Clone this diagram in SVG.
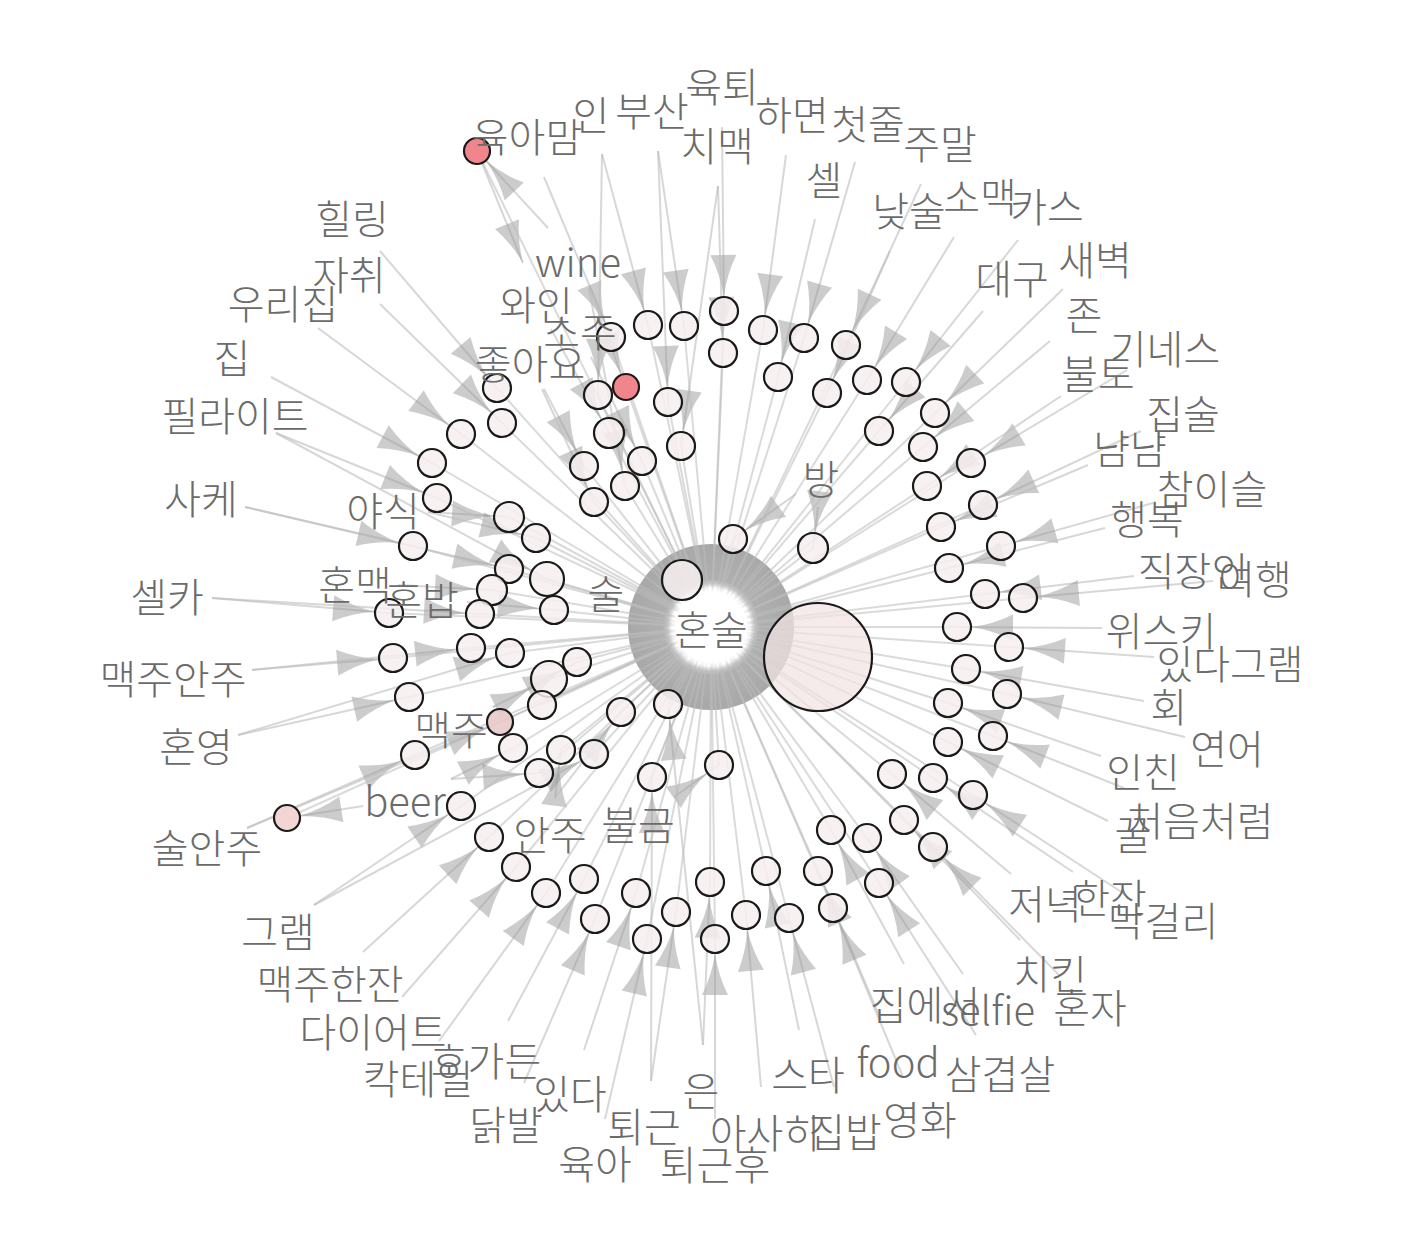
<svg xmlns="http://www.w3.org/2000/svg" width="1426" height="1240" viewBox="0 0 1426 1240">
<style>
.e line{stroke:#bcbcbc;stroke-opacity:.6;stroke-width:2;fill:none}
.c line{stroke:#bcbcbc;stroke-opacity:.55;stroke-width:2}
.ah{fill:#9a9a9a;fill-opacity:.5}
.n circle{fill:#f6eeee;fill-opacity:.85;stroke:#1a1a1a;stroke-width:2.2}
.n .red{fill:#f0868c;fill-opacity:1}
.n .pk{fill:#f3d3d3;fill-opacity:.95}
.n .pk2{fill:#e9c9c9;fill-opacity:.9}
.n .big{fill:#f3e3e3;fill-opacity:.72}
text{font-family:"Noto Sans CJK KR","Noto Sans CJK SC",sans-serif;font-size:40px;font-weight:300;fill:#6b6b6b;text-anchor:middle;dominant-baseline:central}
</style>
<defs>
<radialGradient id="rg" cx="711" cy="627" r="83" gradientUnits="userSpaceOnUse">
<stop offset="0.47" stop-color="#fff"/><stop offset="0.5" stop-color="#d2d2d2"/><stop offset="0.58" stop-color="#b0b0b0"/><stop offset="1" stop-color="#a8a8a8"/>
</radialGradient>
<radialGradient id="wh" cx="711" cy="627" r="44" gradientUnits="userSpaceOnUse">
<stop offset="0.8" stop-color="#fff" stop-opacity="1"/><stop offset="1" stop-color="#fff" stop-opacity="0"/>
</radialGradient>
<marker id="m0" markerUnits="userSpaceOnUse" markerWidth="60" markerHeight="30" refX="0" refY="0" orient="auto" style="overflow:visible"><path class="ah" d="M0,0Q-22,-3 -42,-13L-42,13Q-22,3 0,0Z"/></marker>
<marker id="m13" markerUnits="userSpaceOnUse" markerWidth="60" markerHeight="30" refX="13" refY="0" orient="auto" style="overflow:visible"><path class="ah" d="M0,0Q-22,-3 -42,-13L-42,13Q-22,3 0,0Z"/></marker>
<marker id="m14" markerUnits="userSpaceOnUse" markerWidth="60" markerHeight="30" refX="14" refY="0" orient="auto" style="overflow:visible"><path class="ah" d="M0,0Q-22,-3 -42,-13L-42,13Q-22,3 0,0Z"/></marker>
<marker id="m15" markerUnits="userSpaceOnUse" markerWidth="60" markerHeight="30" refX="15" refY="0" orient="auto" style="overflow:visible"><path class="ah" d="M0,0Q-22,-3 -42,-13L-42,13Q-22,3 0,0Z"/></marker>
<marker id="m17" markerUnits="userSpaceOnUse" markerWidth="60" markerHeight="30" refX="17" refY="0" orient="auto" style="overflow:visible"><path class="ah" d="M0,0Q-22,-3 -42,-13L-42,13Q-22,3 0,0Z"/></marker>
<marker id="m18" markerUnits="userSpaceOnUse" markerWidth="60" markerHeight="30" refX="18" refY="0" orient="auto" style="overflow:visible"><path class="ah" d="M0,0Q-22,-3 -42,-13L-42,13Q-22,3 0,0Z"/></marker>
</defs>
<rect width="1426" height="1240" fill="#fff"/>
<circle id="ring" cx="711" cy="627" r="83" fill="url(#rg)"/>
<g id="connectors">
<g class="e">
<line x1="544" y1="177" x2="611" y2="337" marker-end="url(#m14)"/>
<line x1="602" y1="154" x2="648" y2="325" marker-end="url(#m14)"/>
<line x1="658" y1="151" x2="684" y2="326" marker-end="url(#m14)"/>
<line x1="722" y1="127" x2="724" y2="311" marker-end="url(#m14)"/>
<line x1="718" y1="186" x2="723" y2="353" marker-end="url(#m14)"/>
<line x1="786" y1="155" x2="763" y2="330" marker-end="url(#m14)"/>
<line x1="815" y1="219" x2="778" y2="377" marker-end="url(#m14)"/>
<line x1="855" y1="162" x2="804" y2="338" marker-end="url(#m14)"/>
<line x1="921" y1="184" x2="846" y2="345" marker-end="url(#m14)"/>
<line x1="890" y1="251" x2="827" y2="393" marker-end="url(#m14)"/>
<line x1="954" y1="237" x2="867" y2="380" marker-end="url(#m14)"/>
<line x1="1018" y1="240" x2="906" y2="382" marker-end="url(#m14)"/>
<line x1="983" y1="311" x2="879" y2="431" marker-end="url(#m14)"/>
<line x1="1063" y1="289" x2="935" y2="413" marker-end="url(#m14)"/>
<line x1="1050" y1="341" x2="923" y2="447" marker-end="url(#m14)"/>
<line x1="1127" y1="370" x2="971" y2="463" marker-end="url(#m14)"/>
<line x1="1061" y1="396" x2="927" y2="486" marker-end="url(#m14)"/>
<line x1="1141" y1="431" x2="983" y2="505" marker-end="url(#m14)"/>
<line x1="1088" y1="465" x2="941" y2="527" marker-end="url(#m14)"/>
<line x1="1153" y1="503" x2="1001" y2="546" marker-end="url(#m14)"/>
<line x1="1105" y1="528" x2="949" y2="568" marker-end="url(#m14)"/>
<line x1="1134" y1="576" x2="985" y2="594" marker-end="url(#m14)"/>
<line x1="1213" y1="581" x2="1023" y2="598" marker-end="url(#m14)"/>
<line x1="1102" y1="628" x2="957" y2="627" marker-end="url(#m14)"/>
<line x1="1154" y1="657" x2="1009" y2="647" marker-end="url(#m14)"/>
<line x1="1144" y1="701" x2="966" y2="669" marker-end="url(#m14)"/>
<line x1="1185" y1="737" x2="1007" y2="694" marker-end="url(#m14)"/>
<line x1="1101" y1="756" x2="948" y2="703" marker-end="url(#m14)"/>
<line x1="1124" y1="788" x2="993" y2="736" marker-end="url(#m14)"/>
<line x1="1108" y1="821" x2="948" y2="742" marker-end="url(#m14)"/>
<line x1="1073" y1="872" x2="933" y2="778" marker-end="url(#m14)"/>
<line x1="1126" y1="895" x2="973" y2="795" marker-end="url(#m14)"/>
<line x1="1011" y1="874" x2="892" y2="774" marker-end="url(#m14)"/>
<line x1="1020" y1="940" x2="904" y2="820" marker-end="url(#m14)"/>
<line x1="1059" y1="975" x2="933" y2="847" marker-end="url(#m14)"/>
<line x1="963" y1="974" x2="867" y2="838" marker-end="url(#m14)"/>
<line x1="904" y1="964" x2="831" y2="830" marker-end="url(#m14)"/>
<line x1="976" y1="1035" x2="879" y2="883" marker-end="url(#m14)"/>
<line x1="881" y1="1020" x2="818" y2="871" marker-end="url(#m14)"/>
<line x1="903" y1="1077" x2="833" y2="908" marker-end="url(#m14)"/>
<line x1="834" y1="1087" x2="789" y2="918" marker-end="url(#m14)"/>
<line x1="799" y1="1030" x2="766" y2="871" marker-end="url(#m14)"/>
<line x1="761" y1="1087" x2="746" y2="915" marker-end="url(#m14)"/>
<line x1="715" y1="1119" x2="715" y2="939" marker-end="url(#m14)"/>
<line x1="703" y1="1045" x2="710" y2="882" marker-end="url(#m14)"/>
<line x1="651" y1="1081" x2="676" y2="912" marker-end="url(#m14)"/>
<line x1="605" y1="1119" x2="647" y2="939" marker-end="url(#m14)"/>
<line x1="584" y1="1050" x2="636" y2="893" marker-end="url(#m14)"/>
<line x1="524" y1="1083" x2="595" y2="919" marker-end="url(#m14)"/>
<line x1="508" y1="1021" x2="584" y2="879" marker-end="url(#m14)"/>
<line x1="439" y1="1041" x2="546" y2="893" marker-end="url(#m14)"/>
<line x1="402" y1="997" x2="516" y2="867" marker-end="url(#m14)"/>
<line x1="363" y1="952" x2="489" y2="837" marker-end="url(#m14)"/>
<line x1="314" y1="905" x2="461" y2="806" marker-end="url(#m14)"/>
<line x1="247" y1="828" x2="415" y2="755" marker-end="url(#m14)"/>
<line x1="238" y1="735" x2="409" y2="697" marker-end="url(#m14)"/>
<line x1="252" y1="670" x2="393" y2="658" marker-end="url(#m14)"/>
<line x1="212" y1="598" x2="389" y2="613" marker-end="url(#m14)"/>
<line x1="245" y1="507" x2="413" y2="546" marker-end="url(#m14)"/>
<line x1="276" y1="433" x2="437" y2="498" marker-end="url(#m14)"/>
<line x1="271" y1="377" x2="432" y2="463" marker-end="url(#m14)"/>
<line x1="318" y1="328" x2="461" y2="434" marker-end="url(#m14)"/>
<line x1="380" y1="304" x2="502" y2="423" marker-end="url(#m14)"/>
<line x1="380" y1="251" x2="497" y2="388" marker-end="url(#m14)"/>
<line x1="363" y1="806" x2="287" y2="818" marker-end="url(#m13)"/>
<line x1="548" y1="228" x2="477" y2="151" marker-end="url(#m13)"/>
<line x1="477" y1="151" x2="523" y2="263" marker-end="url(#m0)"/>
<line x1="428" y1="512" x2="509" y2="517" marker-end="url(#m15)"/>
<line x1="428" y1="512" x2="536" y2="538" marker-end="url(#m14)"/>
<line x1="398" y1="585" x2="492" y2="590" marker-end="url(#m15)"/>
<line x1="467" y1="602" x2="554" y2="610" marker-end="url(#m14)"/>
<line x1="493" y1="707" x2="549" y2="679" marker-end="url(#m18)"/>
<line x1="451" y1="779" x2="513" y2="748" marker-end="url(#m14)"/>
<line x1="555" y1="798" x2="561" y2="750" marker-end="url(#m14)"/>
<line x1="674" y1="797" x2="719" y2="765" marker-end="url(#m14)"/>
<line x1="818" y1="507" x2="813" y2="548" marker-end="url(#m15)"/>
<line x1="796" y1="494" x2="733" y2="539" marker-end="url(#m14)"/>
<line x1="589" y1="288" x2="626" y2="387" marker-end="url(#m13)"/>
<line x1="551" y1="329" x2="609" y2="433" marker-end="url(#m15)"/>
<line x1="591" y1="357" x2="642" y2="461" marker-end="url(#m14)"/>
<line x1="544" y1="389" x2="584" y2="466" marker-end="url(#m14)"/>
<line x1="542" y1="389" x2="594" y2="502" marker-end="url(#m14)"/>
<line x1="602" y1="154" x2="598" y2="395" marker-end="url(#m14)"/>
<line x1="658" y1="151" x2="668" y2="402" marker-end="url(#m14)"/>
<line x1="718" y1="186" x2="681" y2="446" marker-end="url(#m14)"/>
<line x1="589" y1="288" x2="625" y2="486" marker-end="url(#m14)"/>
<line x1="245" y1="507" x2="509" y2="569" marker-end="url(#m14)"/>
<line x1="276" y1="433" x2="547" y2="579" marker-end="url(#m17)"/>
<line x1="212" y1="598" x2="480" y2="614" marker-end="url(#m14)"/>
<line x1="252" y1="670" x2="471" y2="648" marker-end="url(#m14)"/>
<line x1="238" y1="735" x2="510" y2="653" marker-end="url(#m14)"/>
<line x1="493" y1="707" x2="577" y2="662" marker-end="url(#m14)"/>
<line x1="247" y1="828" x2="500" y2="722" marker-end="url(#m13)"/>
<line x1="451" y1="779" x2="539" y2="773" marker-end="url(#m14)"/>
<line x1="314" y1="905" x2="594" y2="754" marker-end="url(#m14)"/>
<line x1="555" y1="798" x2="621" y2="712" marker-end="url(#m14)"/>
<line x1="651" y1="1081" x2="652" y2="777" marker-end="url(#m14)"/>
<line x1="703" y1="1045" x2="668" y2="704" marker-end="url(#m14)"/>
</g>
<g class="c">
<line x1="477" y1="151" x2="711" y2="627"/><line x1="648" y1="325" x2="711" y2="627"/><line x1="684" y1="326" x2="711" y2="627"/><line x1="724" y1="311" x2="711" y2="627"/><line x1="723" y1="353" x2="711" y2="627"/><line x1="763" y1="330" x2="711" y2="627"/><line x1="804" y1="338" x2="711" y2="627"/><line x1="846" y1="345" x2="711" y2="627"/><line x1="778" y1="377" x2="711" y2="627"/><line x1="827" y1="393" x2="711" y2="627"/>
<line x1="867" y1="380" x2="711" y2="627"/><line x1="906" y1="382" x2="711" y2="627"/><line x1="611" y1="337" x2="711" y2="627"/><line x1="935" y1="413" x2="711" y2="627"/><line x1="879" y1="431" x2="711" y2="627"/><line x1="923" y1="447" x2="711" y2="627"/><line x1="971" y1="463" x2="711" y2="627"/><line x1="927" y1="486" x2="711" y2="627"/><line x1="983" y1="505" x2="711" y2="627"/><line x1="941" y1="527" x2="711" y2="627"/>
<line x1="1001" y1="546" x2="711" y2="627"/><line x1="949" y1="568" x2="711" y2="627"/><line x1="985" y1="594" x2="711" y2="627"/><line x1="1023" y1="598" x2="711" y2="627"/><line x1="957" y1="627" x2="711" y2="627"/><line x1="1009" y1="647" x2="711" y2="627"/><line x1="966" y1="669" x2="711" y2="627"/><line x1="1007" y1="694" x2="711" y2="627"/><line x1="948" y1="703" x2="711" y2="627"/><line x1="993" y1="736" x2="711" y2="627"/>
<line x1="948" y1="742" x2="711" y2="627"/><line x1="892" y1="774" x2="711" y2="627"/><line x1="933" y1="778" x2="711" y2="627"/><line x1="973" y1="795" x2="711" y2="627"/><line x1="904" y1="820" x2="711" y2="627"/><line x1="933" y1="847" x2="711" y2="627"/><line x1="867" y1="838" x2="711" y2="627"/><line x1="831" y1="830" x2="711" y2="627"/><line x1="879" y1="883" x2="711" y2="627"/><line x1="818" y1="871" x2="711" y2="627"/>
<line x1="833" y1="908" x2="711" y2="627"/><line x1="789" y1="918" x2="711" y2="627"/><line x1="766" y1="871" x2="711" y2="627"/><line x1="746" y1="915" x2="711" y2="627"/><line x1="715" y1="939" x2="711" y2="627"/><line x1="710" y1="882" x2="711" y2="627"/><line x1="676" y1="912" x2="711" y2="627"/><line x1="647" y1="939" x2="711" y2="627"/><line x1="636" y1="893" x2="711" y2="627"/><line x1="595" y1="919" x2="711" y2="627"/>
<line x1="584" y1="879" x2="711" y2="627"/><line x1="546" y1="893" x2="711" y2="627"/><line x1="516" y1="867" x2="711" y2="627"/><line x1="489" y1="837" x2="711" y2="627"/><line x1="461" y1="806" x2="711" y2="627"/><line x1="415" y1="755" x2="711" y2="627"/><line x1="409" y1="697" x2="711" y2="627"/><line x1="393" y1="658" x2="711" y2="627"/><line x1="389" y1="613" x2="711" y2="627"/><line x1="413" y1="546" x2="711" y2="627"/>
<line x1="437" y1="498" x2="711" y2="627"/><line x1="432" y1="463" x2="711" y2="627"/><line x1="461" y1="434" x2="711" y2="627"/><line x1="502" y1="423" x2="711" y2="627"/><line x1="497" y1="388" x2="711" y2="627"/><line x1="287" y1="818" x2="711" y2="627"/><line x1="598" y1="395" x2="711" y2="627"/><line x1="626" y1="387" x2="711" y2="627"/><line x1="668" y1="402" x2="711" y2="627"/><line x1="609" y1="433" x2="711" y2="627"/>
<line x1="681" y1="446" x2="711" y2="627"/><line x1="642" y1="461" x2="711" y2="627"/><line x1="584" y1="466" x2="711" y2="627"/><line x1="625" y1="486" x2="711" y2="627"/><line x1="594" y1="502" x2="711" y2="627"/><line x1="509" y1="517" x2="711" y2="627"/><line x1="536" y1="538" x2="711" y2="627"/><line x1="547" y1="579" x2="711" y2="627"/><line x1="509" y1="569" x2="711" y2="627"/><line x1="492" y1="590" x2="711" y2="627"/>
<line x1="480" y1="614" x2="711" y2="627"/><line x1="554" y1="610" x2="711" y2="627"/><line x1="471" y1="648" x2="711" y2="627"/><line x1="510" y1="653" x2="711" y2="627"/><line x1="577" y1="662" x2="711" y2="627"/><line x1="549" y1="679" x2="711" y2="627"/><line x1="542" y1="705" x2="711" y2="627"/><line x1="500" y1="722" x2="711" y2="627"/><line x1="513" y1="748" x2="711" y2="627"/><line x1="539" y1="773" x2="711" y2="627"/>
<line x1="561" y1="750" x2="711" y2="627"/><line x1="594" y1="754" x2="711" y2="627"/><line x1="621" y1="712" x2="711" y2="627"/><line x1="652" y1="777" x2="711" y2="627"/><line x1="719" y1="765" x2="711" y2="627"/><line x1="682" y1="580" x2="711" y2="627"/><line x1="733" y1="539" x2="711" y2="627"/><line x1="813" y1="548" x2="711" y2="627"/><line x1="668" y1="704" x2="711" y2="627"/>
</g>
</g>
<circle cx="711" cy="627" r="44" fill="url(#wh)"/>
<g class="n">
<g id="n1"><circle class="red" cx="477" cy="151" r="13"/></g>
<g id="n2"><circle cx="648" cy="325" r="14"/></g>
<g id="n3"><circle cx="684" cy="326" r="14"/></g>
<g id="n4"><circle cx="724" cy="311" r="14"/></g>
<g id="n5"><circle cx="723" cy="353" r="14"/></g>
<g id="n6"><circle cx="763" cy="330" r="14"/></g>
<g id="n7"><circle cx="804" cy="338" r="14"/></g>
<g id="n8"><circle cx="846" cy="345" r="14"/></g>
<g id="n9"><circle cx="778" cy="377" r="14"/></g>
<g id="n10"><circle cx="827" cy="393" r="14"/></g>
<g id="n11"><circle cx="867" cy="380" r="14"/></g>
<g id="n12"><circle cx="906" cy="382" r="14"/></g>
<g id="n13"><circle cx="611" cy="337" r="14"/></g>
<g id="n14"><circle cx="935" cy="413" r="14"/></g>
<g id="n15"><circle cx="879" cy="431" r="14"/></g>
<g id="n16"><circle cx="923" cy="447" r="14"/></g>
<g id="n17"><circle cx="971" cy="463" r="14"/></g>
<g id="n18"><circle cx="927" cy="486" r="14"/></g>
<g id="n19"><circle cx="983" cy="505" r="14"/></g>
<g id="n20"><circle cx="941" cy="527" r="14"/></g>
<g id="n21"><circle cx="1001" cy="546" r="14"/></g>
<g id="n22"><circle cx="949" cy="568" r="14"/></g>
<g id="n23"><circle cx="985" cy="594" r="14"/></g>
<g id="n24"><circle cx="1023" cy="598" r="14"/></g>
<g id="n25"><circle cx="957" cy="627" r="14"/></g>
<g id="n26"><circle cx="1009" cy="647" r="14"/></g>
<g id="n27"><circle cx="966" cy="669" r="14"/></g>
<g id="n28"><circle cx="1007" cy="694" r="14"/></g>
<g id="n29"><circle cx="948" cy="703" r="14"/></g>
<g id="n30"><circle cx="993" cy="736" r="14"/></g>
<g id="n31"><circle cx="948" cy="742" r="14"/></g>
<g id="n32"><circle cx="892" cy="774" r="14"/></g>
<g id="n33"><circle cx="933" cy="778" r="14"/></g>
<g id="n34"><circle cx="973" cy="795" r="14"/></g>
<g id="n35"><circle cx="904" cy="820" r="14"/></g>
<g id="n36"><circle cx="933" cy="847" r="14"/></g>
<g id="n37"><circle cx="867" cy="838" r="14"/></g>
<g id="n38"><circle cx="831" cy="830" r="14"/></g>
<g id="n39"><circle cx="879" cy="883" r="14"/></g>
<g id="n40"><circle cx="818" cy="871" r="14"/></g>
<g id="n41"><circle cx="833" cy="908" r="14"/></g>
<g id="n42"><circle cx="789" cy="918" r="14"/></g>
<g id="n43"><circle cx="766" cy="871" r="14"/></g>
<g id="n44"><circle cx="746" cy="915" r="14"/></g>
<g id="n45"><circle cx="715" cy="939" r="14"/></g>
<g id="n46"><circle cx="710" cy="882" r="14"/></g>
<g id="n47"><circle cx="676" cy="912" r="14"/></g>
<g id="n48"><circle cx="647" cy="939" r="14"/></g>
<g id="n49"><circle cx="636" cy="893" r="14"/></g>
<g id="n50"><circle cx="595" cy="919" r="14"/></g>
<g id="n51"><circle cx="584" cy="879" r="14"/></g>
<g id="n52"><circle cx="546" cy="893" r="14"/></g>
<g id="n53"><circle cx="516" cy="867" r="14"/></g>
<g id="n54"><circle cx="489" cy="837" r="14"/></g>
<g id="n55"><circle cx="461" cy="806" r="14"/></g>
<g id="n56"><circle cx="415" cy="755" r="14"/></g>
<g id="n57"><circle cx="409" cy="697" r="14"/></g>
<g id="n58"><circle cx="393" cy="658" r="14"/></g>
<g id="n59"><circle cx="389" cy="613" r="14"/></g>
<g id="n60"><circle cx="413" cy="546" r="14"/></g>
<g id="n61"><circle cx="437" cy="498" r="14"/></g>
<g id="n62"><circle cx="432" cy="463" r="14"/></g>
<g id="n63"><circle cx="461" cy="434" r="14"/></g>
<g id="n64"><circle cx="502" cy="423" r="14"/></g>
<g id="n65"><circle cx="497" cy="388" r="14"/></g>
<g id="n66"><circle class="pk" cx="287" cy="818" r="13"/></g>
<g id="n67"><circle cx="598" cy="395" r="14"/></g>
<g id="n68"><circle class="red" cx="626" cy="387" r="13"/></g>
<g id="n69"><circle cx="668" cy="402" r="14"/></g>
<g id="n70"><circle cx="609" cy="433" r="15"/></g>
<g id="n71"><circle cx="681" cy="446" r="14"/></g>
<g id="n72"><circle cx="642" cy="461" r="14"/></g>
<g id="n73"><circle cx="584" cy="466" r="14"/></g>
<g id="n74"><circle cx="625" cy="486" r="14"/></g>
<g id="n75"><circle cx="594" cy="502" r="14"/></g>
<g id="n76"><circle cx="509" cy="517" r="15"/></g>
<g id="n77"><circle cx="536" cy="538" r="14"/></g>
<g id="n78"><circle cx="547" cy="579" r="17"/></g>
<g id="n79"><circle cx="509" cy="569" r="14"/></g>
<g id="n80"><circle cx="492" cy="590" r="15"/></g>
<g id="n81"><circle cx="480" cy="614" r="14"/></g>
<g id="n82"><circle cx="554" cy="610" r="14"/></g>
<g id="n83"><circle cx="471" cy="648" r="14"/></g>
<g id="n84"><circle cx="510" cy="653" r="14"/></g>
<g id="n85"><circle cx="577" cy="662" r="14"/></g>
<g id="n86"><circle cx="549" cy="679" r="18"/></g>
<g id="n87"><circle cx="542" cy="705" r="14"/></g>
<g id="n88"><circle class="pk2" cx="500" cy="722" r="13"/></g>
<g id="n89"><circle cx="513" cy="748" r="14"/></g>
<g id="n90"><circle cx="539" cy="773" r="14"/></g>
<g id="n91"><circle cx="561" cy="750" r="14"/></g>
<g id="n92"><circle cx="594" cy="754" r="14"/></g>
<g id="n93"><circle cx="621" cy="712" r="14"/></g>
<g id="n94"><circle cx="652" cy="777" r="14"/></g>
<g id="n95"><circle cx="719" cy="765" r="14"/></g>
<g id="n96"><circle cx="682" cy="580" r="20"/></g>
<g id="n97"><circle cx="733" cy="539" r="14"/></g>
<g id="n98"><circle cx="813" cy="548" r="15"/></g>
<g id="n99"><circle cx="668" cy="704" r="14"/></g>
<g id="n100"><circle class="big" cx="818" cy="657" r="54"/></g>
</g>
<g id="labels">
<g id="l-center"><text x="711" y="628">혼술</text></g>
<g id="l1"><text x="527" y="135">육아맘</text></g>
<g id="l2"><text x="591" y="113">인</text></g>
<g id="l3"><text x="652" y="109">부산</text></g>
<g id="l4"><text x="722" y="85">육퇴</text></g>
<g id="l5"><text x="717" y="144">치맥</text></g>
<g id="l6"><text x="792" y="113">하면</text></g>
<g id="l7"><text x="868" y="122">첫줄</text></g>
<g id="l8"><text x="940" y="142">주말</text></g>
<g id="l9"><text x="824" y="178">셀</text></g>
<g id="l10"><text x="909" y="209">낮술</text></g>
<g id="l11"><text x="980" y="195">소맥</text></g>
<g id="l12"><text x="1047" y="205">카스</text></g>
<g id="l13"><text x="1012" y="277">대구</text></g>
<g id="l14"><text x="1095" y="258">새벽</text></g>
<g id="l15"><text x="1084" y="313">존</text></g>
<g id="l16"><text x="1165" y="347">기네스</text></g>
<g id="l17"><text x="1098" y="372">불토</text></g>
<g id="l18"><text x="1183" y="412">집술</text></g>
<g id="l19"><text x="1130" y="447">냠냠</text></g>
<g id="l20"><text x="1212" y="487">참이슬</text></g>
<g id="l21"><text x="1147" y="517">행복</text></g>
<g id="l22"><text x="1193" y="569">직장인</text></g>
<g id="l23"><text x="1255" y="577">여행</text></g>
<g id="l24"><text x="1161" y="629">위스키</text></g>
<g id="l25"><text x="1230" y="662">있다그램</text></g>
<g id="l26"><text x="1169" y="705">회</text></g>
<g id="l27"><text x="1227" y="747">연어</text></g>
<g id="l28"><text x="1143" y="770">인친</text></g>
<g id="l29"><text x="1200" y="819">처음처럼</text></g>
<g id="l30"><text x="1133" y="833">꿀</text></g>
<g id="l31"><text x="1045" y="902">저녁</text></g>
<g id="l32"><text x="1110" y="896">한잔</text></g>
<g id="l33"><text x="1163" y="919">막걸리</text></g>
<g id="l34"><text x="1050" y="972">치킨</text></g>
<g id="l35"><text x="1090" y="1006">혼자</text></g>
<g id="l36"><text x="925" y="1003">집에서</text></g>
<g id="l37"><text x="988" y="1008">selfie</text></g>
<g id="l38"><text x="898" y="1060">food</text></g>
<g id="l39"><text x="1000" y="1072">삼겹살</text></g>
<g id="l40"><text x="920" y="1118">영화</text></g>
<g id="l41"><text x="845" y="1130">집밥</text></g>
<g id="l42"><text x="765" y="1131">아사히</text></g>
<g id="l43"><text x="808" y="1073">스타</text></g>
<g id="l44"><text x="701" y="1089">은</text></g>
<g id="l45"><text x="644" y="1125">퇴근</text></g>
<g id="l46"><text x="715" y="1163">퇴근후</text></g>
<g id="l47"><text x="595" y="1162">육아</text></g>
<g id="l48"><text x="570" y="1092">있다</text></g>
<g id="l49"><text x="506" y="1123">닭발</text></g>
<g id="l50"><text x="418" y="1077">칵테일</text></g>
<g id="l51"><text x="486" y="1059">호가든</text></g>
<g id="l52"><text x="373" y="1030">다이어트</text></g>
<g id="l53"><text x="330" y="982">맥주한잔</text></g>
<g id="l54"><text x="278" y="930">그램</text></g>
<g id="l55"><text x="207" y="846">술안주</text></g>
<g id="l56"><text x="196" y="745">혼영</text></g>
<g id="l57"><text x="173" y="677">맥주안주</text></g>
<g id="l58"><text x="167" y="595">셀카</text></g>
<g id="l59"><text x="201" y="497">사케</text></g>
<g id="l60"><text x="235" y="414">필라이트</text></g>
<g id="l61"><text x="232" y="356">집</text></g>
<g id="l62"><text x="283" y="302">우리집</text></g>
<g id="l63"><text x="349" y="273">자취</text></g>
<g id="l64"><text x="352" y="217">힐링</text></g>
<g id="l65"><text x="383" y="509">야식</text></g>
<g id="l66"><text x="355" y="583">혼맥</text></g>
<g id="l67"><text x="422" y="598">혼밥</text></g>
<g id="l68"><text x="451" y="728">맥주</text></g>
<g id="l69"><text x="405" y="799">beer</text></g>
<g id="l70"><text x="550" y="833">안주</text></g>
<g id="l71"><text x="638" y="823">불금</text></g>
<g id="l72"><text x="606" y="592">술</text></g>
<g id="l73"><text x="821" y="477">방</text></g>
<g id="l74"><text x="578" y="260">wine</text></g>
<g id="l75"><text x="536" y="303">와인</text></g>
<g id="l76"><text x="580" y="330">소주</text></g>
<g id="l77"><text x="530" y="362">좋아요</text></g>
</g>
</svg>
